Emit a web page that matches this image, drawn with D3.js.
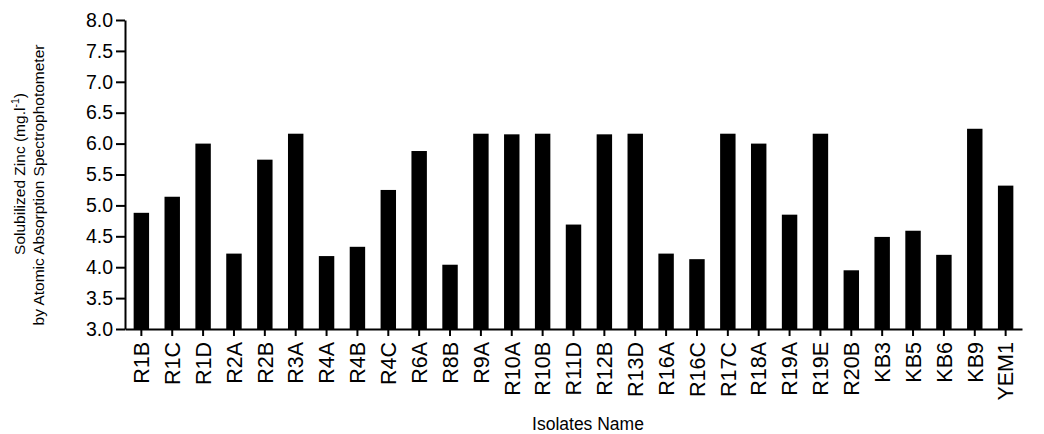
<!DOCTYPE html>
<html>
<head>
<meta charset="utf-8">
<script src="https://cdn.jsdelivr.net/npm/d3@7"></script>
<style>
  body { margin: 0; background: #fff; }
  text { font-family: "Liberation Sans", Arial, sans-serif; fill: #000; }
</style>
</head>
<body>
<div id="bars"></div>
<script>
const isolates = ["R1B", "R1C", "R1D", "R2A", "R2B", "R3A", "R4A", "R4B", "R4C", "R6A",
  "R8B", "R9A", "R10A", "R10B", "R11D", "R12B", "R13D", "R16A", "R16C", "R17C",
  "R18A", "R19A", "R19E", "R20B", "KB3", "KB5", "KB6", "KB9", "YEM1"];

const zinc = [4.88, 5.14, 6.00, 4.22, 5.74, 6.16, 4.18, 4.33, 5.25, 5.88,
  4.04, 6.16, 6.15, 6.16, 4.69, 6.15, 6.16, 4.22, 4.13, 6.16,
  6.00, 4.85, 6.16, 3.95, 4.49, 4.59, 4.20, 6.24, 5.32];

const yTicks = [3.0, 3.5, 4.0, 4.5, 5.0, 5.5, 6.0, 6.5, 7.0, 7.5, 8.0];

const data = isolates.map((name, i) => ({ name, value: zinc[i] }));

const width = 1044;
const height = 434;

const svg = d3.select("#bars")
  .append("svg")
    .attr("width", width)
    .attr("height", height)
    .attr("viewBox", [0, 0, width, height]);

const xScale = d3.scaleBand()
  .domain(isolates)
  .range([125, 1022])
  .paddingInner(0.5)
  .paddingOuter(0.28);

const yScale = d3.scaleLinear()
  .domain([3, 8])
  .range([329, 20]);

svg.append("g")
  .selectAll("rect")
  .data(data)
  .join("rect")
    .attr("x", d => xScale(d.name))
    .attr("y", d => yScale(d.value))
    .attr("width", xScale.bandwidth())
    .attr("height", d => yScale(3) - yScale(d.value))
    .attr("fill", "#000");

const bottomAxis = d3.axisBottom(xScale)
  .tickSize(7)
  .tickSizeOuter(0)
  .tickPadding(6);

const xAxisG = svg.append("g")
  .attr("transform", `translate(0, ${yScale(3)})`)
  .call(bottomAxis);

xAxisG.selectAll("text")
  .attr("font-size", 21.5)
  .attr("transform", "rotate(-90)")
  .attr("x", -13)
  .attr("y", 0)
  .attr("dy", "0.36em")
  .attr("text-anchor", "end");

const leftAxis = d3.axisLeft(yScale)
  .tickValues(yTicks)
  .tickFormat(d3.format(".1f"))
  .tickSize(9)
  .tickSizeOuter(0)
  .tickPadding(3);

const yAxisG = svg.append("g")
  .attr("transform", "translate(125, 0)")
  .call(leftAxis);

yAxisG.selectAll("text").attr("font-size", 19.5);

svg.selectAll(".domain, .tick line")
  .attr("stroke", "#000")
  .attr("stroke-width", 2);

// axis titles
svg.append("text")
  .attr("x", 588)
  .attr("y", 430)
  .attr("text-anchor", "middle")
  .attr("font-size", 17.5)
  .text("Isolates Name");

const title1 = svg.append("text")
  .attr("transform", "translate(25, 174) rotate(-90)")
  .attr("text-anchor", "middle")
  .attr("font-size", 15.5);
title1.append("tspan").text("Solubilized Zinc (mg.l");
title1.append("tspan").attr("dy", -6).attr("font-size", 10.5).text("-1");
title1.append("tspan").attr("dy", 6).text(")");

svg.append("text")
  .attr("transform", "translate(44, 185) rotate(-90)")
  .attr("text-anchor", "middle")
  .attr("font-size", 15.5)
  .text("by Atomic Absorption Spectrophotometer");
</script>
</body>
</html>
